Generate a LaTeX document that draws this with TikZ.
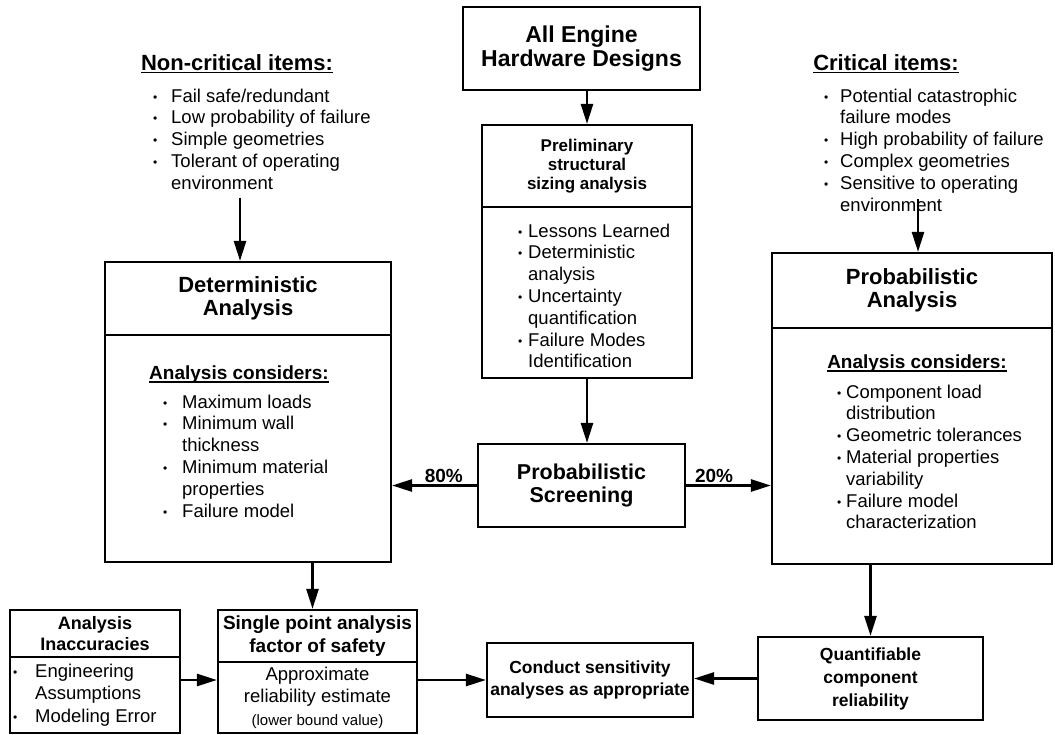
\documentclass[tikz,border=0pt]{standalone}
\usepackage{fontspec}
\setmainfont{Liberation Sans}
\usetikzlibrary{arrows.meta}

% heavy underline for the headings
\newcommand{\undl}[1]{\setbox0\hbox{#1}\rlap{\rule[-2.8pt]{\wd0}{1.6pt}}\box0}
% bullet and hanging indent for the item lists
\newcommand{\bul}[1]{\makebox[#1][l]{\raisebox{1pt}{\fontsize{12}{12}\selectfont\textbullet}}}
\newcommand{\ind}[1]{\hspace*{#1}}

\begin{document}
\begin{tikzpicture}[x=1pt, y=-1pt,
    box/.style={draw, line width=2.2pt, inner sep=0pt, align=center},
    ttl/.style={font=\bfseries\fontsize{22}{23}\selectfont},
    hdr/.style={inner sep=0pt, font=\bfseries\fontsize{22}{24}\selectfont},
    sub/.style={inner sep=0pt, font=\bfseries\fontsize{19}{21}\selectfont},
    lst/.style={inner sep=0pt, align=left, font=\fontsize{18.5}{21.8}\selectfont},
    pct/.style={inner sep=2pt, font=\bfseries\fontsize{19}{19}\selectfont},
    arr/.style={line width=2.6pt, -{Triangle[length=20pt, width=12pt]}}]
  \useasboundingbox (0,0) rectangle (1055,734);

  % Designs and preliminary sizing
  \node[box, minimum width=237pt, minimum height=83pt,
        font=\bfseries\fontsize{23}{24.5}\selectfont] (all) at (581.5,48.5)
        {All Engine\\Hardware Designs};
  \node[box, minimum width=210pt, minimum height=82pt,
        font=\bfseries\fontsize{17}{19}\selectfont] (prelimT) at (587,166)
        {Preliminary\\structural\\sizing analysis};
  \node[box, minimum width=210pt, minimum height=171pt] (prelimB) at (587,292.5) {};
  \node[lst, anchor=north west] (prelimL) at (518,223.5)
        {\bul{10pt}Lessons Learned\\
         \bul{10pt}Deterministic\\
         \ind{10pt}analysis\\
         \bul{10pt}Uncertainty\\
         \ind{10pt}quantification\\
         \bul{10pt}Failure Modes\\
         \ind{10pt}Identification};

  % Screening
  \node[box, minimum width=207pt, minimum height=83pt,
        font=\bfseries\fontsize{21.5}{23.5}\selectfont] (screen) at (581.5,485.5)
        {Probabilistic\\Screening};

  % Non-critical items -> deterministic
  \node[hdr] (ncHead) at (237,64) {\undl{Non-critical items:}};
  \node[lst, anchor=north west] (ncList) at (153,88.5)
        {\bul{18pt}Fail safe/redundant\\
         \bul{18pt}Low probability of failure\\
         \bul{18pt}Simple geometries\\
         \bul{18pt}Tolerant of operating\\
         \ind{18pt}environment};
  \node[box, ttl, minimum width=286pt, minimum height=73pt] (detT) at (248,298.5)
        {Deterministic\\Analysis};
  \node[box, minimum width=286pt, minimum height=227pt] (detB) at (248,448.5) {};
  \node[sub] (detHead) at (239,375) {\undl{Analysis considers:}};
  \node[lst, anchor=north west] (detL) at (163,394.5)
        {\bul{19pt}Maximum loads\\
         \bul{19pt}Minimum wall\\
         \ind{19pt}thickness\\
         \bul{19pt}Minimum material\\
         \ind{19pt}properties\\
         \bul{19pt}Failure model};

  % Critical items -> probabilistic
  \node[hdr] (crHead) at (886,64) {\undl{Critical items:}};
  \node[lst, anchor=north west] (crList) at (824,88.5)
        {\bul{16pt}Potential catastrophic\\
         \ind{16pt}failure modes\\
         \bul{16pt}High probability of failure\\
         \bul{16pt}Complex geometries\\
         \bul{16pt}Sensitive to operating\\
         \ind{16pt}environment};
  \node[box, ttl, minimum width=280pt, minimum height=75pt] (probT) at (912,290.5)
        {Probabilistic\\Analysis};
  \node[box, minimum width=280pt, minimum height=236pt] (probB) at (912,446) {};
  \node[sub] (probHead) at (917,364) {\undl{Analysis considers:}};
  \node[lst, anchor=north west] (probL) at (837,384.5)
        {\bul{9pt}Component load\\
         \ind{9pt}distribution\\
         \bul{9pt}Geometric tolerances\\
         \bul{9pt}Material properties\\
         \ind{9pt}variability\\
         \bul{9pt}Failure model\\
         \ind{9pt}characterization};

  % Bottom row
  \node[box, minimum width=170pt, minimum height=47pt,
        font=\bfseries\fontsize{18}{21}\selectfont] (inaccT) at (95,633.5)
        {Analysis\\Inaccuracies};
  \node[box, minimum width=170pt, minimum height=76pt] (inaccB) at (95,695) {};
  \node[lst, anchor=north west, font=\fontsize{18.5}{22.5}\selectfont] (inaccL) at (13,663.5)
        {\bul{22pt}Engineering\\
         \ind{22pt}Assumptions\\
         \bul{22pt}Modeling Error};
  \node[box, minimum width=199pt, minimum height=52pt,
        font=\bfseries\fontsize{19}{23}\selectfont] (singleT) at (317.5,636)
        {Single point analysis\\factor of safety};
  \node[box, minimum width=199pt, minimum height=71pt,
        font=\fontsize{18.5}{22.5}\selectfont] (singleB) at (317.5,697.5)
        {Approximate\\reliability estimate\\{\fontsize{15}{15}\selectfont(lower bound value)}};
  \node[box, minimum width=206pt, minimum height=74pt,
        font=\bfseries\fontsize{17.5}{22}\selectfont] (conduct) at (590,680)
        {Conduct sensitivity\\analyses as appropriate};
  \node[box, minimum width=225pt, minimum height=83pt,
        font=\bfseries\fontsize{17.5}{23}\selectfont] (quant) at (870.5,678.5)
        {Quantifiable\\component\\reliability};

  % Arrows
  \coordinate (ncIn) at ([xshift=-8pt]detT.north);
  \coordinate (crIn) at ([xshift=6pt]probT.north);
  \coordinate (detOut) at ([xshift=-5pt]singleT.north);
  \draw[arr] (prelimT.north |- all.south) -- (prelimT.north);
  \draw[arr] (prelimB.south) -- (prelimB.south |- screen.north);
  \draw[arr] (screen.west) -- node[pct, above, pos=0.39] {80\%} (screen.west -| detB.east);
  \draw[arr] (screen.east) -- node[pct, above, pos=0.33] {20\%} (screen.east -| probB.west);
  \draw[arr, shorten <=8pt] (ncIn |- ncList.south) -- (ncIn);
  \draw[arr, shorten <=-12pt] (crIn |- crList.south) -- (crIn);
  \draw[arr] (detOut |- detB.south) -- (detOut);
  \draw[arr] (quant.north |- probB.south) -- (quant.north);
  \draw[arr] (quant.west) -- (quant.west -| conduct.east);
  \draw[arr] (inaccB.east |- conduct.west) -- (singleB.west |- conduct.west);
  \draw[arr] (singleB.east |- conduct.west) -- (conduct.west);
\end{tikzpicture}
\end{document}
